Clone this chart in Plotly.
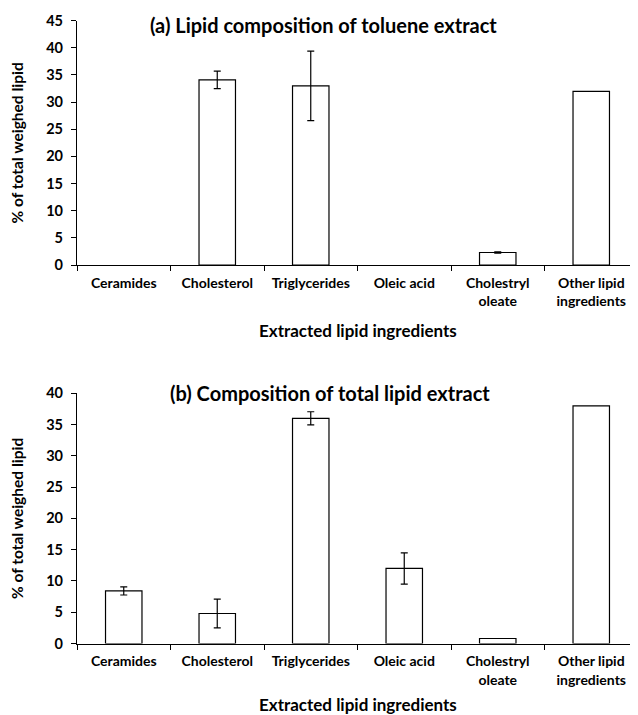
import plotly.graph_objects as go

categories = ["Ceramides", "Cholesterol", "Triglycerides", "Oleic acid",
              "Cholestryl<br>oleate", "Other lipid<br>ingredients"]

toluene_values = [0, 34.1, 33.0, 0, 2.3, 32.0]
toluene_errors = [None, 1.6, 6.4, None, 0.12, None]

total_values = [8.4, 4.8, 36.0, 12.0, 0.8, 38.0]
total_errors = [0.65, 2.3, 1.05, 2.5, None, None]

title_a = "(a) Lipid composition of toluene extract"
title_b = "(b) Composition of total lipid extract"
x_title = "Extracted lipid ingredients"
y_title = "% of total weighed lipid"

FONT = "Lato"
OFF = 8  # default page body margin
W, H = 638 - OFF, 715 - OFF
LEFT = 77 - OFF
PLOT_W = W - LEFT

fig = go.Figure()
for vals, errs, xa, ya in [(toluene_values, toluene_errors, "x", "y"),
                           (total_values, total_errors, "x2", "y2")]:
    fig.add_trace(go.Bar(
        x=categories, y=vals, xaxis=xa, yaxis=ya,
        width=0.39,
        marker=dict(color=["rgba(0,0,0,0)" if v == 0 else "white" for v in vals],
                    line=dict(color="black",
                              width=[0 if v == 0 else 1.2 for v in vals])),
        showlegend=False, hoverinfo="skip",
    ))
    idx = [i for i, e in enumerate(errs) if e is not None]
    fig.add_trace(go.Scatter(
        x=[categories[i] for i in idx], y=[vals[i] for i in idx],
        xaxis=xa, yaxis=ya, mode="markers",
        marker=dict(size=1, color="rgba(0,0,0,0)"),
        error_y=dict(type="data", array=[errs[i] for i in idx], visible=True,
                     color="black", thickness=1.2, width=3.5),
        showlegend=False, hoverinfo="skip",
    ))

def py(p):
    return 1 - (p - OFF) / H

def px(p):
    return (p - 77) / PLOT_W

axis_common = dict(showline=True, linecolor="black", linewidth=1.2,
                   showgrid=False, zeroline=False, mirror=False,
                   automargin=False, layer="above traces")

xaxis_common = dict(axis_common, type="category", ticks="outside",
                    tickson="boundaries", ticklen=5, tickcolor="black",
                    tickwidth=1.2, ticklabelstandoff=5,
                    categoryorder="array", categoryarray=categories,
                    tickfont=dict(family=FONT, size=14, color="black", weight="bold"))

yaxis_common = dict(axis_common, ticks="outside", ticklen=5, tickcolor="black",
                    tickwidth=1.2, dtick=5, ticklabelstandoff=5,
                    tickfont=dict(family=FONT, size=14.5, color="black", weight="bold"),
                    title=dict(text=y_title, standoff=18,
                               font=dict(family=FONT, size=15.5, color="black", weight="bold")))

fig.update_layout(
    width=W, height=H,
    margin=dict(l=LEFT, r=0, t=0, b=0),
    paper_bgcolor="white", plot_bgcolor="white",
    xaxis=dict(xaxis_common, domain=[0, 1], anchor="y"),
    yaxis=dict(yaxis_common, domain=[py(265), py(20.7)],
               range=[0, 45], anchor="x"),
    xaxis2=dict(xaxis_common, domain=[0, 1], anchor="y2"),
    yaxis2=dict(yaxis_common, domain=[py(643.5), py(393.3)],
                range=[0, 40], anchor="x2"),
)

ann_font = dict(family=FONT, color="black", weight="bold")
fig.add_annotation(text=title_a, xref="paper", yref="paper",
                   x=px(323), y=py(25), showarrow=False,
                   font=dict(ann_font, size=20), xanchor="center", yanchor="middle")
fig.add_annotation(text=title_b, xref="paper", yref="paper",
                   x=px(330), y=py(393), showarrow=False,
                   font=dict(ann_font, size=20), xanchor="center", yanchor="middle")
fig.add_annotation(text=x_title, xref="paper", yref="paper",
                   x=0.5, y=py(330), showarrow=False,
                   font=dict(ann_font, size=17), xanchor="center", yanchor="middle")
fig.add_annotation(text=x_title, xref="paper", yref="paper",
                   x=0.5, y=py(704), showarrow=False,
                   font=dict(ann_font, size=17), xanchor="center", yanchor="middle")

fig.write_html("out.html")
